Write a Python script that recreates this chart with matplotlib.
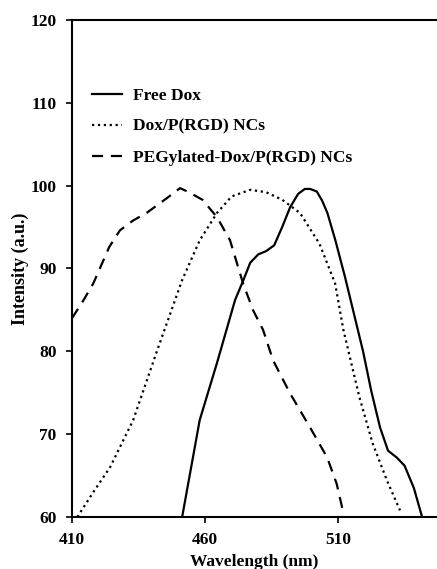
import matplotlib
matplotlib.use("Agg")
import matplotlib.pyplot as plt

plt.rcParams['font.family'] = ['Liberation Serif', 'DejaVu Serif']
plt.rcParams['font.weight'] = 'bold'

# emission spectra
free_dox_nm = [451.4, 458, 464.5, 471.3, 474.3, 477, 480, 483, 486, 489, 492, 495, 497.5, 499.5,
               502, 504, 506, 509, 512.6, 516, 519.4, 522.5, 525.8, 528.8, 532, 535, 538.5, 541.6]
free_dox_int = [60, 71.7, 78.6, 86.2, 88.5, 90.7, 91.7, 92.1, 92.8, 95.0, 97.4, 99.0, 99.6, 99.6,
                99.3, 98.2, 96.7, 93.4, 89, 84.5, 80.0, 75.2, 70.8, 68, 67.2, 66.2, 63.5, 60]

dox_nc_nm = [412, 418, 424.3, 433, 442, 451.4, 458, 464.5, 470, 477, 483, 489, 495.7, 503,
             508.9, 512, 518, 523, 528.4, 533.3]
dox_nc_int = [60, 63, 66, 71.7, 80.1, 88.6, 93.4, 96.7, 98.7, 99.5, 99.2, 98.3, 96.7, 93,
              88.2, 82.6, 74.5, 68.9, 64.4, 60.8]

peg_nm = [410, 414, 418, 424, 428, 433, 438, 445.7, 450.6, 454, 459, 464.5, 469.4, 474.3,
          478, 481.8, 485.6, 492, 499.5, 505.9, 509.5, 512]
peg_int = [84.0, 86.0, 88.2, 92.6, 94.6, 95.8, 96.7, 98.5, 99.7, 99.2, 98.3, 96.2, 93.4, 88.2,
           85.0, 82.6, 78.9, 74.9, 70.8, 67.2, 64.0, 60.5]

series = [
    ("Free Dox", free_dox_nm, free_dox_int, '-'),
    ("Dox/P(RGD) NCs", dox_nc_nm, dox_nc_int, ':'),
    ("PEGylated-Dox/P(RGD) NCs", peg_nm, peg_int, (0, (5, 3.5))),
]

fig = plt.figure(figsize=(4.37, 5.69), dpi=100)
ax = fig.add_axes([0.1648, 0.0914, 0.8352, 0.8735])

for label, xs, ys, ls in series:
    ax.plot(xs, ys, color='black', linestyle=ls, linewidth=1.6, label=label)

ax.set_xlim(410, 547.2)
ax.set_ylim(60, 120)
ax.set_xticks([410, 460, 510])
ax.set_yticks([60, 70, 80, 90, 100, 110, 120])
ax.tick_params(direction='out', length=4, width=1.2, labelsize=12.5, pad=7)
for lbl in ax.get_xticklabels() + ax.get_yticklabels():
    lbl.set_fontweight('bold')

ax.spines['right'].set_visible(False)
for side in ['left', 'bottom', 'top']:
    ax.spines[side].set_linewidth(1.5)

ax.set_xlabel("Wavelength (nm)", fontsize=12.5, fontweight='bold', labelpad=4)
ax.set_ylabel("Intensity (a.u.)", fontsize=13, fontweight='bold', labelpad=1)

leg = ax.legend(loc='upper left', bbox_to_anchor=(0.012, 0.895), frameon=False,
                handlelength=1.75, handletextpad=0.6, labelspacing=0.85,
                prop={'weight': 'bold', 'size': 12.5})

fig.savefig("out.png", dpi=100)
